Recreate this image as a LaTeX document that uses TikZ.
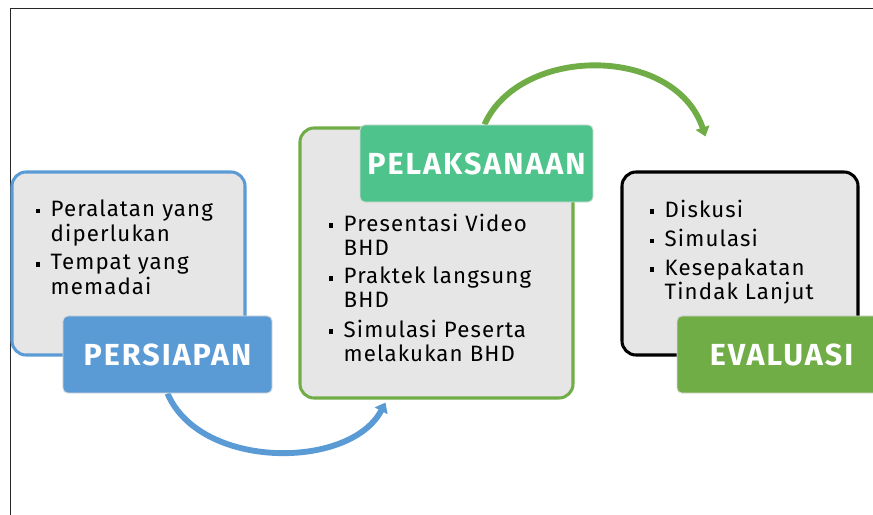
\documentclass[tikz,border=0pt]{standalone}
\usepackage{fontspec}
\setmainfont{Fira Sans}
\newfontfamily\bodyfont[LetterSpace=5]{Fira Sans}
\newfontfamily\headfont[LetterSpace=6.5]{Fira Sans}
\usepackage{tikz}
\usetikzlibrary{calc, arrows.meta, backgrounds}
\definecolor{blueanno}{RGB}{91,155,213}
\definecolor{greenanno}{RGB}{112,173,71}
\definecolor{tealanno}{RGB}{78,196,140}
\definecolor{grayfill}{RGB}{231,230,230}
\definecolor{frameline}{RGB}{40,40,40}
\newcommand{\sqbul}{\rule[0.28ex]{0.2em}{0.2em}}

\begin{document}
\begin{tikzpicture}[x=0.03cm, y=-0.03cm,
  infobox/.style={draw, line width=2.6pt, fill=grayfill, rounded corners=12pt, inner sep=0pt, minimum height=5.49cm},
  headbox/.style={draw=gray!30, line width=0.8pt, rounded corners=4pt, text=white, inner sep=0pt, minimum height=2.31cm, font=\headfont\fontsize{26}{30}\selectfont\bfseries},
  itemtext/.style={inner sep=0pt, anchor=north west, align=left, font=\bodyfont\fontsize{19}{20.5}\selectfont},
  loopline/.style={line width=5pt, -{Triangle[length=8pt,width=12pt]}}]
\useasboundingbox (0,0) rectangle (873,515);
\clip (0,0) rectangle (873,515);
\draw[frameline, line width=1.2pt] (10.5,8.5) rectangle (900,560);

% boxes
\node[infobox, draw=blueanno, minimum width=6.99cm] (boxPers) at (128.5,263.5) {};
\node[infobox, draw=greenanno, minimum width=8.19cm, minimum height=8.1cm] (boxPel) at (436.5,263) {};
\node[infobox, draw=black, minimum width=7.08cm] (boxEval) at (740,263.5) {};

% items
\node[itemtext] (txtPers) at ($(boxPers.north west)+(25,29)$) {%
\begin{tabular}{@{}l@{\hspace{9pt}}l@{}}
\sqbul & Peralatan yang\\
 & diperlukan\\[4pt]
\sqbul & Tempat yang\\
 & memadai
\end{tabular}};
\node[itemtext] (txtPel) at ($(boxPel.north west)+(30,87)$) {%
\begin{tabular}{@{}l@{\hspace{9pt}}l@{}}
\sqbul & Presentasi Video\\
 & BHD\\[4pt]
\sqbul & Praktek langsung\\
 & BHD\\[4pt]
\sqbul & Simulasi Peserta\\
 & melakukan BHD
\end{tabular}};
\node[itemtext] (txtEval) at ($(boxEval.north west)+(29,29)$) {%
\begin{tabular}{@{}l@{\hspace{9pt}}l@{}}
\sqbul & Diskusi\\[4pt]
\sqbul & Simulasi\\[4pt]
\sqbul & Kesepakatan\\
 & Tindak Lanjut
\end{tabular}};

% headers
\node[headbox, fill=blueanno, minimum width=6.27cm] (lblPers) at (167.5,354.5) {PERSIAPAN};
\node[headbox, fill=tealanno, minimum width=6.99cm] (lblPel) at (476.5,163.5) {PELAKSANAAN};
\node[headbox, fill=greenanno, minimum width=6.27cm] (lblEval) at (781.5,354.5) {EVALUASI};

% loops
\begin{scope}[on background layer]
\draw[loopline, blueanno] (lblPers.south) .. controls (200,470) and (350,470) .. ($(boxPel.south west)+(87,3)$);
\draw[loopline, greenanno] ($(lblPel.north)+(8,0)$) .. controls (520,45) and (675,45) .. ($(boxEval.north west)+(85,-34)$);
\end{scope}
\end{tikzpicture}
\end{document}
